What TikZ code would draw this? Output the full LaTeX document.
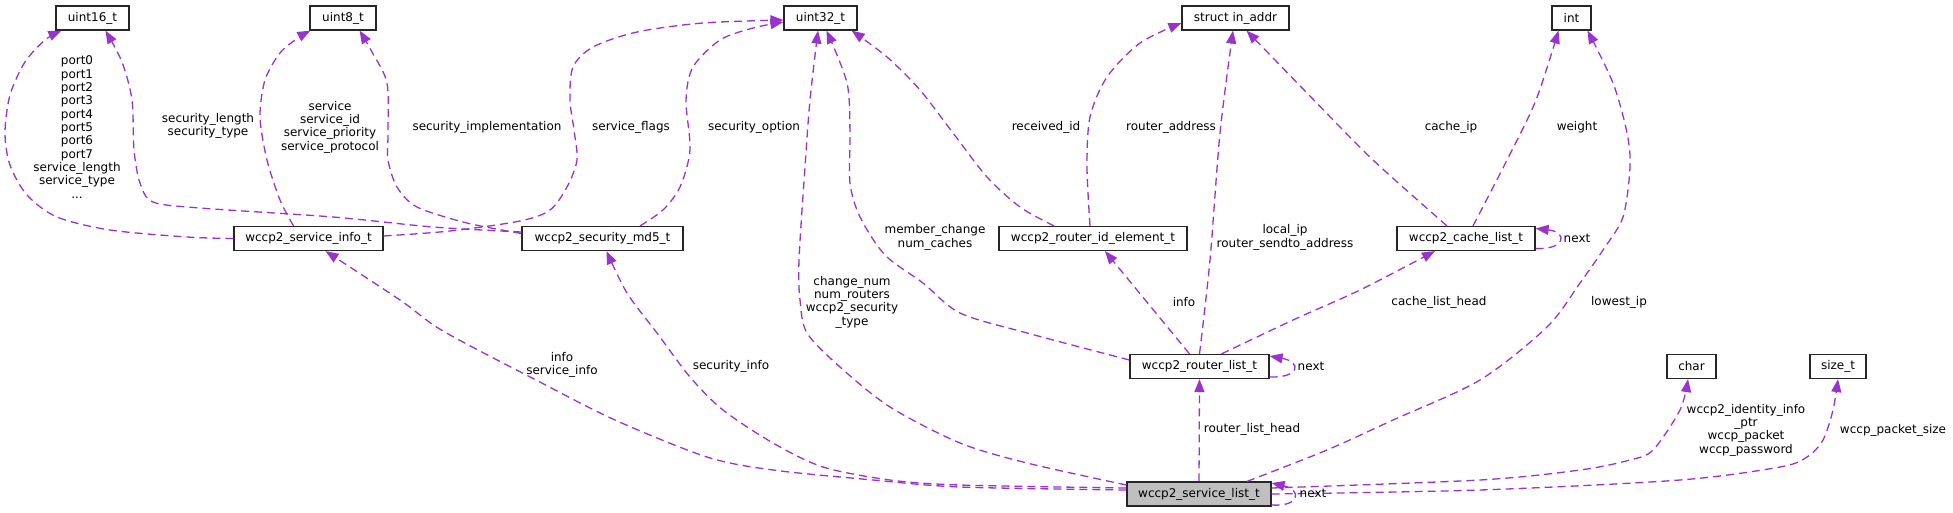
\documentclass[tikz,border=0pt]{standalone}
\usepackage{fontspec}
\setmainfont{DejaVu Sans}
\usetikzlibrary{arrows.meta}
\definecolor{edgecol}{HTML}{9A32CD}
\definecolor{maingray}{HTML}{BFBFBF}
\begin{document}
\begin{tikzpicture}[x=1pt,y=-1pt,
  every node/.style={font=\fontsize{12pt}{13.33pt}\selectfont, inner sep=0pt},
  cls/.style={draw=black!85, line width=1.2pt, fill=white, minimum height=24pt},
  lbl/.style={align=center, text=black},
  rel/.style={draw=edgecol, line width=1.3pt, dash pattern=on 8pt off 5pt, -{Triangle[length=13pt,width=10pt]}},
]
\useasboundingbox (0,0) rectangle (1953,512);

% classes
\node[cls, minimum width=73pt]  (u16)    at (92.5,18)   {uint16\_t};
\node[cls, minimum width=66pt]  (u8)     at (343,18)    {uint8\_t};
\node[cls, minimum width=73pt]  (u32)    at (820.5,18)  {uint32\_t};
\node[cls, minimum width=107pt] (inaddr) at (1235.5,18) {struct in\_addr};
\node[cls, minimum width=39pt]  (int)    at (1571.5,18) {int};
\node[cls, minimum width=149pt] (si)     at (308.5,238.5) {wccp2\_service\_info\_t};
\node[cls, minimum width=161pt] (md5)    at (602.5,238.5) {wccp2\_security\_md5\_t};
\node[cls, minimum width=188pt] (rid)    at (1093,238.5)  {wccp2\_router\_id\_element\_t};
\node[cls, minimum width=138pt] (cl)     at (1466,238.5)  {wccp2\_cache\_list\_t};
\node[cls, minimum width=139pt] (rl)     at (1199.5,366.5) {wccp2\_router\_list\_t};
\node[cls, minimum width=49pt]  (ch)     at (1691.5,366.5) {char};
\node[cls, minimum width=56pt]  (sz)     at (1838,366.5)   {size\_t};
\node[cls, minimum width=144pt, fill=maingray] (sl) at (1199,494) {wccp2\_service\_list\_t};

% edges
\draw[rel] plot[smooth] coordinates {(si.west) (187,237) (110,230) (57,217) (27,195) (10,165) (5,133) (10,95) (25,62) (45,40) ([xshift=6pt]u16.south west)};
\draw[rel] plot[smooth] coordinates {([yshift=6.5pt]md5.west) (433,227) (333,217) (200,208) (153,202) (140,183) (134,150) (132,100) (122,62) ([xshift=50pt]u16.south west)};
\draw[rel] plot[smooth] coordinates {([xshift=-15pt]si.north) (280,200) (267,160) (260,117) (265,80) (280,53) (298,38) ([xshift=1pt]u8.south west)};
\draw[rel] plot[smooth] coordinates {([yshift=5pt]md5.west) (467,223) (417,207) (397,187) (388,160) (388,133) (387,83) (372,52) ([xshift=-17pt]u8.south east)};
\draw[rel] plot[smooth] coordinates {([yshift=2.5pt]si.east) (450,231) (520,221) (550,210) (567,187) (577,160) (574,130) (570,100) (573,67) (593,47) (637,32) (703,23) ([yshift=-2pt]u32.west)};
\draw[rel] plot[smooth] coordinates {([xshift=37.5pt]md5.north) (663,210) (680,187) (690,150) (686,100) (693,67) (720,40) (753,28) ([yshift=-4pt]u32.west)};
\draw[rel] plot[smooth] coordinates {([yshift=9pt]sl.west) (1027,463) (960,443) (890,407) (840,367) (807,333) (800,300) (799,260) (805,167) (810,100) ([xshift=-2.5pt]u32.south)};
\draw[rel] plot[smooth] coordinates {([yshift=6.5pt]rl.west) (1027,333) (960,313) (923,283) (885,255) (860,217) (850,183) (850,133) (847,83) ([xshift=6pt]u32.south)};
\draw[rel] plot[smooth] coordinates {([xshift=-39pt]rid.north) (1020,207) (987,177) (953,133) (920,90) (887,57) ([xshift=-6pt]u32.south east)};
\draw[rel] plot[smooth] coordinates {([xshift=-3pt]rid.north) (1087,167) (1090,117) (1107,77) (1140,43) ([yshift=-5pt]inaddr.west)};
\draw[rel] plot[smooth] coordinates {(rl.north) (1210,260) (1220,133) ([xshift=-2.5pt]inaddr.south)};
\draw[rel] ([xshift=-10pt]rl.north) -- ([xshift=12pt]rid.south);
\draw[rel] plot[smooth] coordinates {([xshift=22pt]rl.north) (1293,320) (1360,290) ([xshift=-31pt]cl.south)};
\draw[rel] plot[smooth] coordinates {([xshift=-19pt]cl.north) (1373,160) (1307,93) ([xshift=11pt]inaddr.south)};
\draw[rel] plot[smooth] coordinates {([xshift=7pt]cl.north) (1507,160) (1536,100) ([xshift=-13pt]int.south)};
\draw[rel] plot[smooth] coordinates {([xshift=48pt]sl.north) (1327,450) (1393,420) (1480,380) (1547,327) (1580,283) (1603,250) (1623,217) (1630,167) (1627,133) (1613,83) ([xshift=16pt]int.south)};
\draw[rel] plot[smooth] coordinates {([yshift=6pt]sl.east) (1480,480) (1580,470) (1630,460) (1653,450) (1680,410) ([xshift=-3.5pt]ch.south)};
\draw[rel] plot[smooth] coordinates {(sl.east) (1480,490) (1680,480) (1780,467) (1807,457) (1823,440) (1833,410) (sz.south)};
\draw[rel] plot[smooth] coordinates {([yshift=4pt]sl.west) (960,487) (873,480) (773,470) (707,457) (615,420) (536,380) (443,331) (400,300) ([xshift=17pt]si.south)};
\draw[rel] plot[smooth] coordinates {([yshift=6pt]sl.west) (960,485) (890,480) (823,467) (773,443) (723,410) (690,377) (657,333) (627,293) ([xshift=4pt]md5.south)};
\draw[rel] (sl.north) -- (rl.south);
% self loops
\draw[rel] ([yshift=-10.5pt]rl.east) .. controls (1300,378) and (1302,362) .. ([yshift=10.5pt]rl.east);
\draw[rel] ([yshift=-11pt]sl.east) .. controls (1300,507) and (1302,490) .. ([yshift=11pt]sl.east);
\draw[rel] ([yshift=-10pt]cl.east) .. controls (1566,250) and (1568,232) .. ([yshift=10pt]cl.east);

% labels
\node[lbl] (l1) at (77,127) {port0\\port1\\port2\\port3\\port4\\port5\\port6\\port7\\service\_length\\service\_type\\...};
\node[lbl] (l2) at (208,126) {security\_length\\security\_type};
\node[lbl] (l3) at (330,127) {service\\service\_id\\service\_priority\\service\_protocol};
\node[lbl] (l4) at (487,127) {security\_implementation};
\node[lbl] (l5) at (631,127) {service\_flags};
\node[lbl] (l6) at (754,127) {security\_option};
\node[lbl] (l7) at (1046,127) {received\_id};
\node[lbl] (l8) at (1171,127) {router\_address};
\node[lbl] (l9) at (1451,127) {cache\_ip};
\node[lbl] (l10) at (1577,127) {weight};
\node[lbl] (l11) at (935,237.5) {member\_change\\num\_caches};
\node[lbl] (l12) at (1285,237.5) {local\_ip\\router\_sendto\_address};
\node[lbl] (l13) at (1577,238) {next};
\node[lbl] (l14) at (852,302) {change\_num\\num\_routers\\wccp2\_security\\\_type};
\node[lbl] (l15) at (562,365) {info\\service\_info};
\node[lbl] (l16) at (731,366) {security\_info};
\node[lbl] (l17) at (1184,302) {info};
\node[lbl] (l18) at (1439,302) {cache\_list\_head};
\node[lbl] (l19) at (1619,302) {lowest\_ip};
\node[lbl] (l20) at (1311,366) {next};
\node[lbl] (l21) at (1252,429) {router\_list\_head};
\node[lbl] (l22) at (1746,430) {wccp2\_identity\_info\\\_ptr\\wccp\_packet\\wccp\_password};
\node[lbl] (l23) at (1893,430) {wccp\_packet\_size};
\node[lbl] (l24) at (1313,493) {next};
\end{tikzpicture}
\end{document}
